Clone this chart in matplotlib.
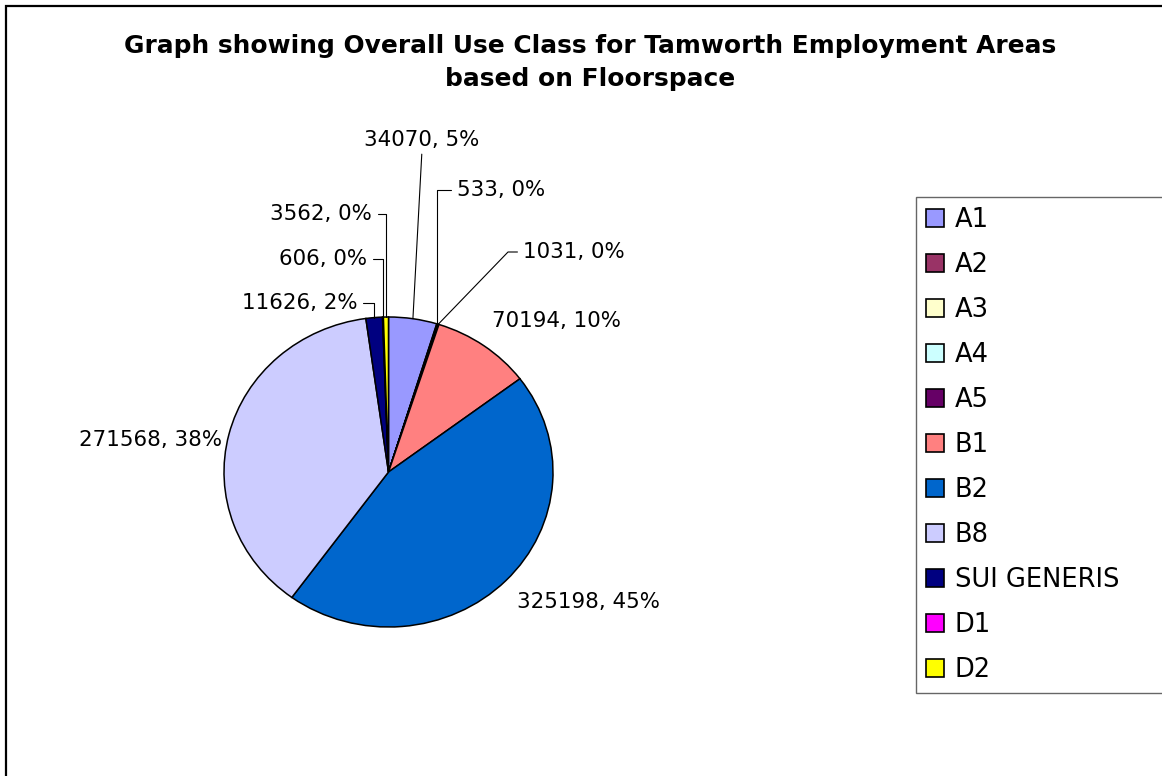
#!/usr/bin/env python3
"""
Pie chart of overall use class floorspace for Tamworth employment areas
"""
import numpy as np
import matplotlib
matplotlib.use('Agg')
import matplotlib.pyplot as plt
from matplotlib.patches import Rectangle

# Floorspace by use class (sq m)
use_classes = ['A1', 'A2', 'A3', 'A4', 'A5', 'B1', 'B2', 'B8',
               'SUI GENERIS', 'D1', 'D2']
floorspace = [34070, 533, 0, 0, 1031, 70194, 325198, 271568, 11626, 606, 3562]
colors = ['#9999FF', '#993366', '#FFFFCC', '#CCFFFF', '#660066', '#FF8080',
          '#0066CC', '#CCCCFF', '#000080', '#FF00FF', '#FFFF00']

W, H = 1162, 776

# Label placement in figure pixels (measured from top-left):
# (x, y, ha, va, leader style)
label_layout = {
    'A1': (422, 140, 'center', 'center', 'straight'),
    'A2': (457, 190, 'left', 'center', 'angle,angleA=0,angleB=90,rad=0'),
    'A5': (523, 252, 'left', 'center', 'angle,angleA=0,angleB=46,rad=0'),
    'B1': (492, 321, 'left', 'center', None),
    'B2': (517, 602, 'left', 'center', None),
    'B8': (222, 440, 'right', 'center', None),
    'SUI GENERIS': (357, 303, 'right', 'center', 'angle,angleA=0,angleB=90,rad=0'),
    'D1': (367, 259, 'right', 'center', 'angle,angleA=0,angleB=90,rad=0'),
    'D2': (372, 214, 'right', 'center', 'angle,angleA=0,angleB=90,rad=0'),
}

fig = plt.figure(figsize=(W / 100, H / 100), dpi=100)

# outer chart border
fig.patches.append(Rectangle((6 / W, -0.05), 1.2, 1 - 6 / H + 0.05,
                             transform=fig.transFigure, fill=False,
                             edgecolor='black', linewidth=1.6))

fig.text(590 / W, 1 - 46 / H,
         'Graph showing Overall Use Class for Tamworth Employment Areas',
         ha='center', va='center', fontsize=17.9, fontweight='bold',
         family='DejaVu Sans')
fig.text(590 / W, 1 - 79 / H, 'based on Floorspace',
         ha='center', va='center', fontsize=17.9, fontweight='bold',
         family='DejaVu Sans')

# pie sits in a slightly stretched box
left, right, top, bottom = 224, 553, 317, 627
ax = fig.add_axes([left / W, 1 - bottom / H, (right - left) / W,
                   (bottom - top) / H])
wedges, _ = ax.pie(floorspace, colors=colors, startangle=90,
                   counterclock=False,
                   wedgeprops=dict(edgecolor='black', linewidth=1.1))
for w in wedges:
    w.set_clip_on(False)
ax.set_aspect('auto')
ax.set_xlim(-1, 1)
ax.set_ylim(-1, 1)
ax.axis('off')

total = sum(floorspace)
for name, val, w in zip(use_classes, floorspace, wedges):
    if name not in label_layout:
        continue
    x, y, ha, va, style = label_layout[name]
    text = f'{val}, {round(100 * val / total)}%'
    mid = np.deg2rad((w.theta1 + w.theta2) / 2)
    edge = (np.cos(mid), np.sin(mid))
    kw = {}
    if style == 'straight':
        kw['arrowprops'] = dict(arrowstyle='-', color='black', lw=0.8,
                                shrinkA=1, shrinkB=0, relpos=(0.5, 0))
    elif style is not None:
        relx = 0 if ha == 'left' else 1
        kw['arrowprops'] = dict(arrowstyle='-', color='black', lw=0.8,
                                shrinkA=2, shrinkB=0, relpos=(relx, 0.5),
                                connectionstyle=style)
    ax.annotate(text, xy=edge, xycoords='data', xytext=(x, H - y),
                textcoords='figure pixels', ha=ha, va=va, fontsize=15.4,
                family='DejaVu Sans', annotation_clip=False, **kw)

leg_top = 1 - 197 / H
leg = fig.legend(wedges, use_classes, loc='upper left',
                 bbox_to_anchor=(916 / W, leg_top - 0.01, 0.3, 0.01),
                 mode='expand', borderaxespad=0,
                 prop=dict(family='DejaVu Sans', size=18.5),
                 handlelength=0.7, handleheight=0.7, handletextpad=0.42,
                 labelspacing=0.74, borderpad=0.38, frameon=True,
                 fancybox=False)
leg.get_frame().set_edgecolor('#404040')
leg.get_frame().set_linewidth(1.0)
for h in leg.legend_handles:
    h.set_edgecolor('black')
    h.set_linewidth(1.2)

fig.savefig('out.png', dpi=100)
